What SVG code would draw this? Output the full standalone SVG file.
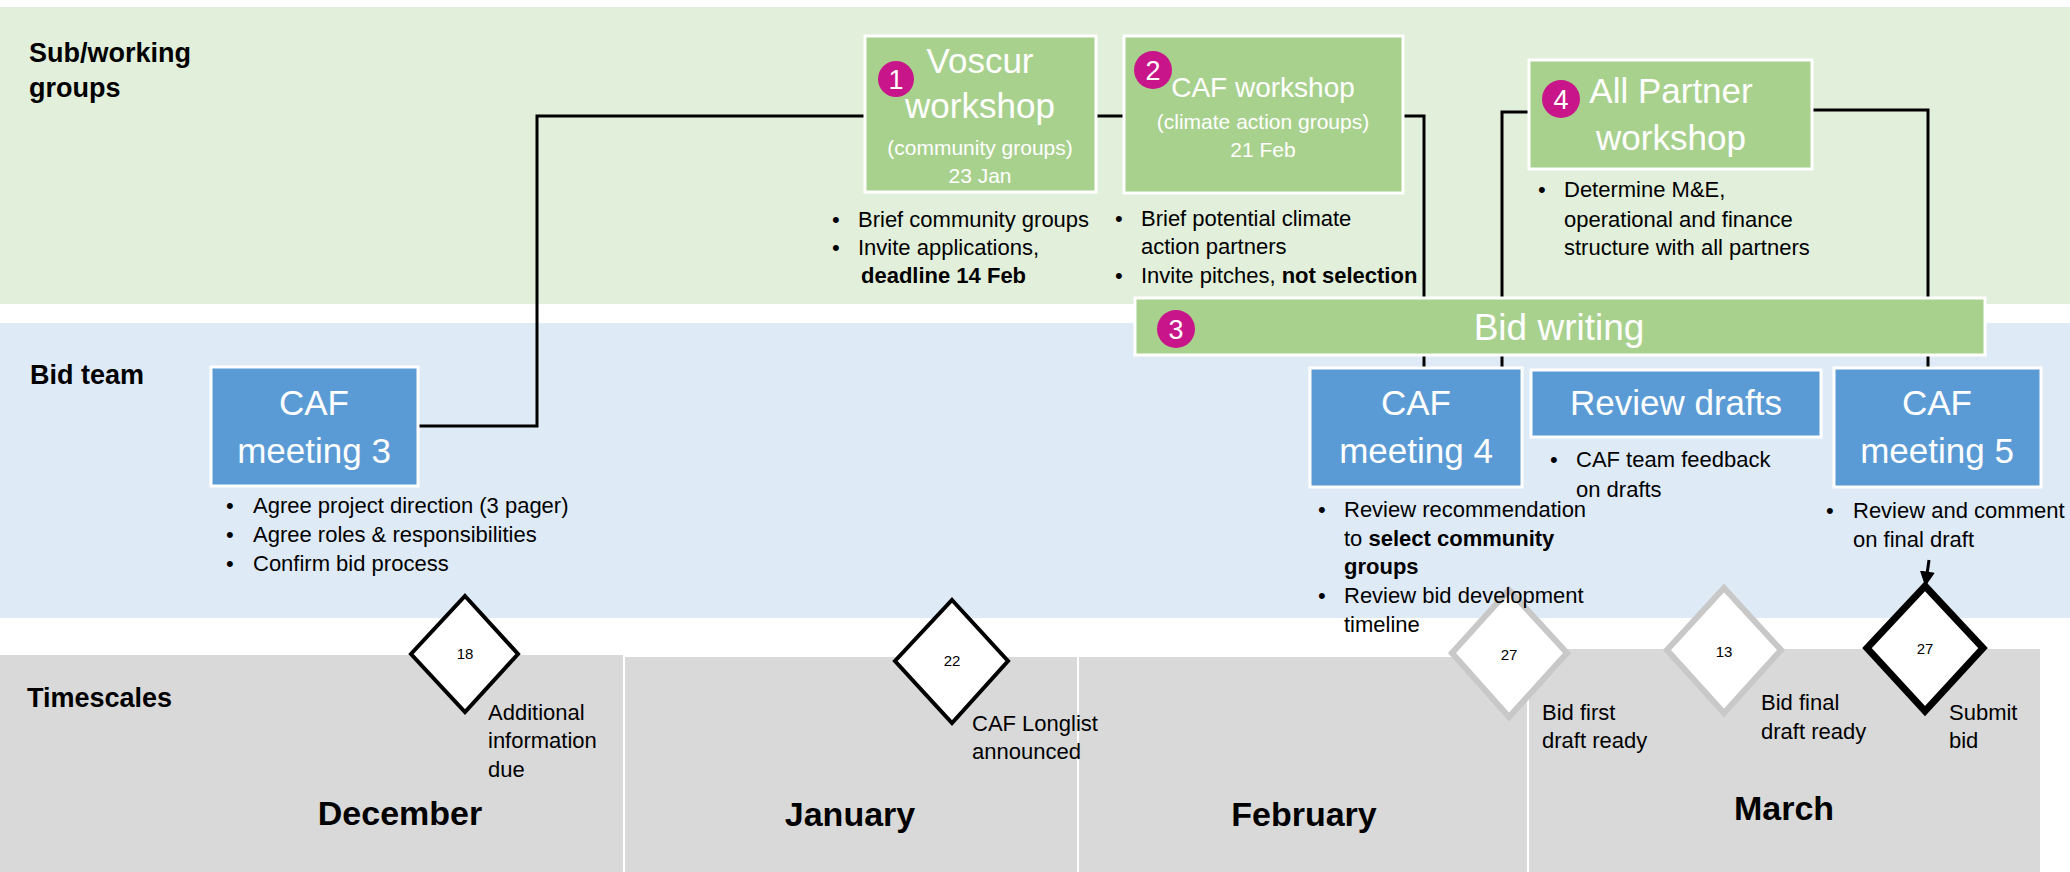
<svg xmlns="http://www.w3.org/2000/svg" width="2070" height="872" viewBox="0 0 2070 872">
<defs>
<style>
text{font-family:"Liberation Sans",Arial,sans-serif;}
.lane{font-size:27px;font-weight:bold;fill:#000;}
.month{font-size:34px;font-weight:bold;fill:#000;text-anchor:middle;}
.title{font-size:35px;fill:#fff;text-anchor:middle;}
.sub{font-size:21px;fill:#fff;text-anchor:middle;}
.bul{font-size:22px;fill:#000;}
.num{font-size:15px;fill:#000;text-anchor:middle;}
.badge{fill:#C8168A;}
.btxt{font-size:27px;fill:#fff;text-anchor:middle;}
.gbox{fill:#A9D18E;stroke:#fff;stroke-width:3;}
.bbox{fill:#5B9BD5;stroke:#fff;stroke-width:3;}
.conn{fill:none;stroke:#000;stroke-width:3;}
.dk{fill:#fff;stroke:#000;stroke-width:4;}
.dg{fill:#fff;stroke:#C8C8C8;stroke-width:6;}
b{font-weight:bold;}
</style>
<marker id="ah" viewBox="0 0 10 10" refX="9" refY="5" markerWidth="5" markerHeight="5" orient="auto-start-reverse">
<path d="M0,0 L10,5 L0,10 z" fill="#000"/>
</marker>
</defs>

<g id="lanes">
<rect x="0" y="7" width="2070" height="297" fill="#E2EFDA"/>
<rect x="0" y="323" width="2070" height="295" fill="#DEEAF6"/>
<rect x="0" y="655" width="623" height="217" fill="#D9D9D9"/>
<rect x="625" y="657" width="452" height="215" fill="#D9D9D9"/>
<rect x="1079" y="657" width="448" height="215" fill="#D9D9D9"/>
<rect x="1529" y="649" width="511" height="223" fill="#D9D9D9"/>
<text class="lane" x="29" y="62">Sub/working</text>
<text class="lane" x="29" y="97">groups</text>
<text class="lane" x="30" y="384">Bid team</text>
<text class="lane" x="27" y="707">Timescales</text>
<text class="month" x="400" y="825">December</text>
<text class="month" x="850" y="826">January</text>
<text class="month" x="1304" y="826">February</text>
<text class="month" x="1784" y="820">March</text>
</g>

<g id="connectors">
<path class="conn" d="M418,426 H537 V116 H865"/>
<path class="conn" d="M1096,116 H1124"/>
<path class="conn" d="M1403,116 H1424 V368"/>
<path class="conn" d="M1529,112 H1502 V368"/>
<path class="conn" d="M1812,110 H1928 V368"/>
<line x1="1929" y1="560" x2="1925.5" y2="585" stroke="#000" stroke-width="3" marker-end="url(#ah)"/>
</g>

<g id="voscur-workshop">
<rect class="gbox" x="865" y="36" width="231" height="156"/>
<circle class="badge" cx="896" cy="79" r="18"/>
<text class="btxt" x="896" y="89">1</text>
<text class="title" x="980" y="73">Voscur</text>
<text class="title" x="980" y="118">workshop</text>
<text class="sub" x="980" y="155">(community groups)</text>
<text class="sub" x="980" y="183">23 Jan</text>
<text class="bul" x="832" y="227">•</text><text class="bul" x="858" y="227">Brief community groups</text>
<text class="bul" x="832" y="255">•</text><text class="bul" x="858" y="255">Invite applications,</text>
<text class="bul" x="861" y="283" font-weight="bold">deadline 14 Feb</text>
</g>

<g id="caf-workshop">
<rect class="gbox" x="1124" y="36" width="279" height="157"/>
<circle class="badge" cx="1153" cy="70" r="19"/>
<text class="btxt" x="1153" y="80">2</text>
<text class="title" x="1263" y="97" style="font-size:28px">CAF workshop</text>
<text class="sub" x="1263" y="129">(climate action groups)</text>
<text class="sub" x="1263" y="157">21 Feb</text>
<text class="bul" x="1115" y="226">•</text><text class="bul" x="1141" y="226">Brief potential climate</text>
<text class="bul" x="1141" y="254">action partners</text>
<text class="bul" x="1115" y="283">•</text><text class="bul" x="1141" y="283">Invite pitches, <tspan font-weight="bold">not selection</tspan></text>
</g>

<g id="all-partner-workshop">
<rect class="gbox" x="1529" y="60" width="283" height="109"/>
<circle class="badge" cx="1561" cy="99" r="19"/>
<text class="btxt" x="1561" y="109">4</text>
<text class="title" x="1671" y="103">All Partner</text>
<text class="title" x="1671" y="150">workshop</text>
<text class="bul" x="1538" y="197">•</text><text class="bul" x="1564" y="197">Determine M&amp;E,</text>
<text class="bul" x="1564" y="227">operational and finance</text>
<text class="bul" x="1564" y="255">structure with all partners</text>
</g>

<g id="bid-writing">
<rect class="gbox" x="1135" y="298" width="850" height="57"/>
<circle class="badge" cx="1176" cy="329" r="19"/>
<text class="btxt" x="1176" y="339">3</text>
<text class="title" x="1559" y="340" style="font-size:37px">Bid writing</text>
</g>

<g id="milestones">
<polygon class="dk" points="465,596 518,654 465,712 411,654"/>
<text class="num" x="465" y="659">18</text>
<text class="bul" x="488" y="720">Additional</text>
<text class="bul" x="488" y="748">information</text>
<text class="bul" x="488" y="777">due</text>
<polygon class="dk" points="952,600 1008,661 952,723 895,661"/>
<text class="num" x="952" y="666">22</text>
<text class="bul" x="972" y="731">CAF Longlist</text>
<text class="bul" x="972" y="759">announced</text>
<polygon class="dg" points="1509,590 1567,653 1509,717 1452,653"/>
<text class="num" x="1509" y="660">27</text>
<text class="bul" x="1542" y="720">Bid first</text>
<text class="bul" x="1542" y="748">draft ready</text>
<polygon class="dg" points="1724,588 1781,650 1724,713 1667,650"/>
<text class="num" x="1724" y="657">13</text>
<text class="bul" x="1761" y="710">Bid final</text>
<text class="bul" x="1761" y="739">draft ready</text>
<polygon class="dk" style="stroke-width:7" points="1925,586 1983,648 1925,711 1867,648"/>
<text class="num" x="1925" y="654">27</text>
<text class="bul" x="1949" y="720">Submit</text>
<text class="bul" x="1949" y="748">bid</text>
</g>

<g id="caf-meeting-3">
<rect class="bbox" x="211" y="367" width="207" height="119"/>
<text class="title" x="314" y="415">CAF</text>
<text class="title" x="314" y="463">meeting 3</text>
<text class="bul" x="226" y="513">•</text><text class="bul" x="253" y="513">Agree project direction (3 pager)</text>
<text class="bul" x="226" y="542">•</text><text class="bul" x="253" y="542">Agree roles &amp; responsibilities</text>
<text class="bul" x="226" y="571">•</text><text class="bul" x="253" y="571">Confirm bid process</text>
</g>

<g id="caf-meeting-4">
<rect class="bbox" x="1310" y="368" width="212" height="119"/>
<text class="title" x="1416" y="415">CAF</text>
<text class="title" x="1416" y="463">meeting 4</text>
<text class="bul" x="1318" y="517">•</text><text class="bul" x="1344" y="517">Review recommendation</text>
<text class="bul" x="1344" y="546">to <tspan font-weight="bold">select community</tspan></text>
<text class="bul" x="1344" y="574" font-weight="bold">groups</text>
<text class="bul" x="1318" y="603">•</text><text class="bul" x="1344" y="603">Review bid development</text>
<text class="bul" x="1344" y="632">timeline</text>
</g>

<g id="review-drafts">
<rect class="bbox" x="1531" y="370" width="290" height="67"/>
<text class="title" x="1676" y="415">Review drafts</text>
<text class="bul" x="1550" y="467">•</text><text class="bul" x="1576" y="467">CAF team feedback</text>
<text class="bul" x="1576" y="497">on drafts</text>
</g>

<g id="caf-meeting-5">
<rect class="bbox" x="1834" y="368" width="207" height="119"/>
<text class="title" x="1937" y="415">CAF</text>
<text class="title" x="1937" y="463">meeting 5</text>
<text class="bul" x="1826" y="518">•</text><text class="bul" x="1853" y="518">Review and comment</text>
<text class="bul" x="1853" y="547">on final draft</text>
</g>
</svg>
